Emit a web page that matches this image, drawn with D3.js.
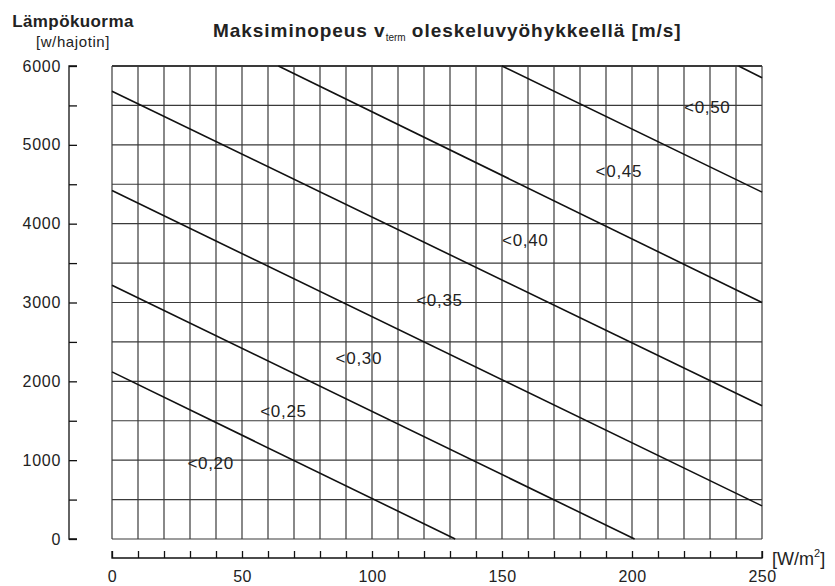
<!DOCTYPE html>
<html>
<head>
<meta charset="utf-8">
<script src="https://d3js.org/d3.v7.min.js"></script>
<style>
  body { margin: 0; background: #fff; }
  text { font-family: "Liberation Sans", Arial, sans-serif; fill: #222; }
</style>
</head>
<body>
<script>
// values
const xTicks = [0, 50, 100, 150, 200, 250];
const yTicks = [0, 1000, 2000, 3000, 4000, 5000, 6000];
const lineNames = ["<0,20", "<0,25", "<0,30", "<0,35", "<0,40", "<0,45", "<0,50"];
// each line: start and end point [W/m2, W]
const lineStart = [[0, 2120], [0, 3220], [0, 4420], [0, 5680], [64, 6000], [150, 6000], [241, 6000]];
const lineEnd = [[132, 0], [201, 0], [250, 420], [250, 1690], [250, 3000], [250, 4400], [250, 5850]];
// label anchor positions [W/m2, W]
const labelPos = [[29, 960], [57, 1620], [86, 2300], [117, 3030], [150, 3790], [186, 4670], [220, 5480]];

const W = 835, H = 586;
const svg = d3.select("body").append("svg").attr("width", W).attr("height", H);

const x = d3.scaleLinear().domain([0, 250]).range([112, 762]);
const y = d3.scaleLinear().domain([0, 6000]).range([539, 66]);

// grid
const g = svg.append("g").attr("class", "grid");
g.selectAll("line.v").data(d3.range(0, 251, 10)).join("line")
    .attr("x1", d => x(d)).attr("x2", d => x(d))
    .attr("y1", y(0)).attr("y2", y(6000))
    .attr("stroke", "#3a3a3a").attr("stroke-width", 1.2);
g.selectAll("line.h").data(d3.range(0, 6001, 500)).join("line")
    .attr("x1", x(0)).attr("x2", x(250))
    .attr("y1", d => y(d)).attr("y2", d => y(d))
    .attr("stroke", "#3a3a3a").attr("stroke-width", d => d === 6000 ? 2 : 1.2);

// sloping lines
svg.append("g").selectAll("line").data(lineStart).join("line")
    .attr("x1", d => x(d[0])).attr("y1", d => y(d[1]))
    .attr("x2", (d, i) => x(lineEnd[i][0])).attr("y2", (d, i) => y(lineEnd[i][1]))
    .attr("stroke", "#111").attr("stroke-width", 1.6);

svg.append("g").selectAll("text").data(labelPos).join("text")
    .attr("x", d => x(d[0])).attr("y", d => y(d[1]))
    .attr("dy", "0.35em")
    .style("font-size", "17px").style("letter-spacing", "0.7px")
    .text((d, i) => lineNames[i]);

// y axis, detached on the left
const yAxis = d3.axisRight(y).tickValues(d3.range(0, 6001, 500)).tickSize(8)
    .tickFormat(d => yTicks.includes(d) ? d : "");
const ya = svg.append("g").attr("transform", "translate(69,0)").call(yAxis);
ya.select(".domain").attr("d", `M8,${y(6000)}H0V${y(0)}H8`).attr("stroke", "#111").attr("stroke-width", 1.3);
ya.selectAll(".tick line").attr("stroke", "#111").attr("stroke-width", 1.3);
ya.selectAll(".tick text").attr("x", -8).attr("text-anchor", "end")
    .style("font-size", "16px").style("letter-spacing", "0.7px")
    .style("font-family", "Liberation Sans, Arial, sans-serif").attr("fill", "#222");

// x axis, detached below
const xAxis = d3.axisTop(x).tickValues(d3.range(0, 251, 10)).tickSize(7)
    .tickFormat(d => xTicks.includes(d) ? d : "");
const xa = svg.append("g").attr("transform", "translate(0,558)").call(xAxis);
xa.select(".domain").attr("d", `M${x(0)},-7V0H${x(250)}V-7`).attr("stroke", "#111").attr("stroke-width", 1.3);
xa.selectAll(".tick line").attr("stroke", "#111").attr("stroke-width", 1.3);
xa.selectAll(".tick text").attr("y", 24).attr("dy", 0)
    .style("font-size", "16px").style("letter-spacing", "0.4px")
    .style("font-family", "Liberation Sans, Arial, sans-serif").attr("fill", "#222");

// titles
svg.append("text").attr("x", 73).attr("y", 27).attr("text-anchor", "middle")
    .style("font-size", "17px").style("font-weight", "bold").style("letter-spacing", "0.4px")
    .text("Lämpökuorma");
svg.append("text").attr("x", 73).attr("y", 47).attr("text-anchor", "middle")
    .style("font-size", "15px").style("letter-spacing", "0.6px").text("[w/hajotin]");

const t = svg.append("text").attr("x", 213).attr("y", 37)
    .style("font-size", "19px").style("font-weight", "bold").style("letter-spacing", "0.95px");
t.append("tspan").text("Maksiminopeus v");
t.append("tspan").attr("dy", 4).style("font-size", "10px").style("font-weight", "normal")
    .style("letter-spacing", "0px").text("term");
t.append("tspan").attr("dy", -4).text(" oleskeluvyöhykkeellä [m/s]");

const u = svg.append("text").attr("x", 772).attr("y", 565).style("font-size", "18px");
u.append("tspan").text("[W/m");
u.append("tspan").attr("dy", -8).style("font-size", "11px").text("2");
u.append("tspan").attr("dy", 8).text("]");
</script>
</body>
</html>
